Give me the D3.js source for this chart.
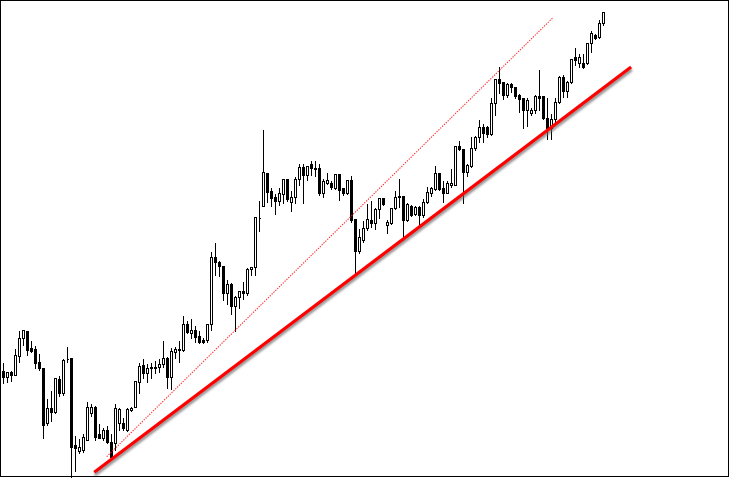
<!DOCTYPE html>
<html><head><meta charset="utf-8">
<script src="https://cdn.jsdelivr.net/npm/d3@7"></script>
<style>html,body{margin:0;padding:0;background:#fff;overflow:hidden}</style>
</head><body>
<svg id="chart" width="730" height="478"></svg>
<script>
// Bar data (price units), oldest to newest
const opens = [109,103,108,105,124,142,149,132,131,118,
112,57,72,68,101,87,121,122,35,29,
30,40,67,73,46,42,50,38,37,57,
57,50,70,73,98,115,107,113,113,113,
116,122,103,128,131,130,156,147,150,144,
140,140,156,223,218,214,187,196,174,183,
189,187,211,213,262,274,307,289,283,279,
286,301,278,283,301,313,305,316,312,312,
287,297,297,292,306,292,287,300,261,229,
240,252,260,257,271,282,255,257,272,283,
284,260,274,266,273,265,278,287,291,307,
292,287,295,295,334,331,308,314,332,343,
353,353,346,377,401,398,385,396,393,385,
382,370,367,370,384,384,362,352,361,378,
403,389,398,423,417,417,417,437,445,443,
457];
const highs = [118,108,110,132,150,151,150,140,135,127,
113,82,90,102,105,122,134,122,45,42,
47,79,77,75,57,53,55,47,77,73,
63,73,74,99,118,122,117,118,120,122,
140,124,133,134,140,165,160,162,155,150,
143,157,229,238,220,215,201,198,185,190,
199,213,213,263,280,351,308,293,287,293,
302,302,290,304,317,317,315,320,320,317,
302,308,300,307,307,293,301,305,261,252,
260,277,280,273,283,283,261,273,290,302,
285,278,276,275,275,282,294,294,315,307,
300,300,312,335,340,332,317,344,345,361,
357,355,383,402,414,399,398,398,394,387,
383,383,373,386,411,385,383,367,383,405,
406,400,422,433,427,427,438,450,447,461,
469];
const lows = [97,98,99,105,118,135,125,128,112,110,
42,55,59,67,84,85,118,3,9,27,
28,40,64,40,42,40,37,22,30,50,
50,49,69,73,87,102,98,102,107,108,
113,92,91,122,118,129,147,142,138,137,
137,138,150,205,204,180,176,166,149,172,
181,185,205,205,249,274,278,274,266,275,
277,279,269,277,295,277,300,305,304,285,
283,296,291,291,280,285,286,258,207,227,
238,250,253,251,262,275,247,256,271,273,
240,259,264,265,256,263,277,284,290,290,
278,287,293,295,330,277,304,313,330,338,
338,343,345,365,387,381,383,388,382,368,
352,354,365,367,370,361,341,341,357,377,
383,383,397,415,413,412,416,428,441,442,
455];
const closes = [103,108,105,125,142,150,130,129,117,112,
55,72,68,102,87,120,121.5,33,32,33,
43,73,73,43,42,50,38,23,72,71,
52,71,72,99,114,107,112,112,112,116,
122,103,129,131,130,156,148,150,143,138,
138,156,223,218,214,187,196,174,183,189,
187,211,213,263,262,308,288,282,279,287,
301,281,283,301,313,305,314,312,311.5,287,
299,300,293,306,290,287,300,260,229,243,
252,261,257,271,282,276,258,272,283,284,
260,276,265,273,265,278,288,292,307,291,
287,297,297,334,331,308,315,332,343,353,
347,346,377,401,397,385,396,393,384,381,
370,380,370,384,382,362,352,361,378,403,
389,398,421,420,423,413,437,447,442,457,
468];
// Drawn objects: [bar index, price]
const trendLine = [[22.7, 7.7], [156.9, 413]];
const channelLine = [[25.8, 23.3], [137.45, 462.7]];

const W = 730, H = 478;
const bars = opens.map((o, i) => ({i, o, h: highs[i], l: lows[i], c: closes[i]}));
const svg = d3.select('#chart');

const x = d3.scaleLinear().domain([0, 150]).range([3.5, 603.5]);
const y = d3.scaleLinear().domain([0, 480]).range([480, 0]);
const py = v => Math.round(y(v)) + 0.5;

svg.append('rect').attr('x', 0).attr('y', 0).attr('width', W).attr('height', H).attr('fill', '#fff');

const defs = svg.append('defs');
defs.append('filter').attr('id', 'sh').attr('x', '-10%').attr('y', '-10%').attr('width', '120%').attr('height', '120%')
  .append('feGaussianBlur').attr('stdDeviation', 0.8);

const g = svg.append('g').attr('shape-rendering', 'crispEdges');
g.selectAll('line.wick').data(bars).join('line')
  .attr('class', 'wick')
  .attr('x1', d => x(d.i)).attr('x2', d => x(d.i))
  .attr('y1', d => py(d.h)).attr('y2', d => py(d.l))
  .attr('stroke', '#000').attr('stroke-width', 1);

g.selectAll('path.body').data(bars).join('path')
  .attr('class', 'body')
  .attr('d', d => {
    const x0 = x(d.i) - 1, x1 = x(d.i) + 1;
    const yt = py(Math.max(d.o, d.c)), yb = py(Math.min(d.o, d.c));
    return `M${x0},${yt}H${x1}V${yb}H${x0}Z`;
  })
  .attr('fill', d => d.c >= d.o ? '#fff' : '#000')
  .attr('stroke', '#000').attr('stroke-width', 1);

const lineGen = d3.line().x(d => x(d[0])).y(d => y(d[1]));

svg.append('path').attr('d', lineGen(channelLine))
  .attr('fill', 'none').attr('stroke', '#ff2020').attr('stroke-width', 1.1)
  .attr('stroke-dasharray', '1.3 1.3').attr('opacity', 0.95);

svg.append('path').attr('d', lineGen(trendLine))
  .attr('transform', 'translate(0.5,2.5)')
  .attr('fill', 'none').attr('stroke', '#666').attr('stroke-width', 3.5)
  .attr('opacity', 0.7).attr('filter', 'url(#sh)');
svg.append('path').attr('d', lineGen(trendLine))
  .attr('fill', 'none').attr('stroke', '#ff0000').attr('stroke-width', 3.2);

svg.append('rect').attr('x', 0.5).attr('y', 0.5).attr('width', 728).attr('height', 476)
  .attr('fill', 'none').attr('stroke', '#000').attr('stroke-width', 1)
  .attr('shape-rendering', 'crispEdges');
</script>
</body></html>
